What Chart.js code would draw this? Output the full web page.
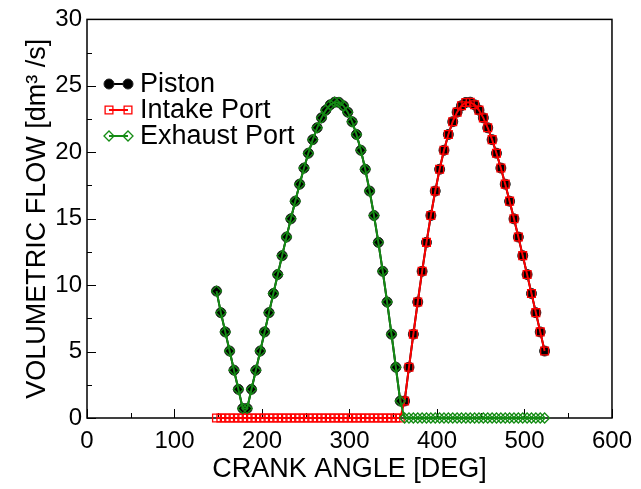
<!DOCTYPE html>
<html lang="en">
<head>
<meta charset="UTF-8">
<title>Volumetric Flow</title>
<script src="https://cdn.jsdelivr.net/npm/chart.js@4"></script>
<style>
  html, body { margin: 0; padding: 0; background: #fff; }
</style>
</head>
<body>
<canvas id="flowChart" width="641" height="489"></canvas>
<script>
// crank angle [deg], one sample every 5 deg
const crankAngle = [
  148, 153, 158, 163, 168, 173, 178, 183, 188, 193, 198, 203, 208, 213, 218, 223, 228, 233, 238, 243,
  248, 253, 258, 263, 268, 273, 278, 283, 288, 293, 298, 303, 308, 313, 318, 323, 328, 333, 338, 343,
  348, 353, 358, 363, 368, 373, 378, 383, 388, 393, 398, 403, 408, 413, 418, 423, 428, 433, 438, 443,
  448, 453, 458, 463, 468, 473, 478, 483, 488, 493, 498, 503, 508, 513, 518, 523
];

// volumetric flow [dm3/s]
const pistonFlow = [
  9.55, 7.93, 6.48, 5.04, 3.60, 2.16, 0.72, 0.72, 2.16, 3.60, 5.04, 6.48, 7.93, 9.37, 10.80, 12.22, 13.62, 14.99, 16.32, 17.60,
  18.81, 19.93, 20.95, 21.84, 22.59, 23.17, 23.57, 23.77, 23.75, 23.50, 23.02, 22.30, 21.34, 20.15, 18.72, 17.08, 15.24, 13.22, 11.04, 8.73,
  6.31, 3.82, 1.28, 1.28, 3.82, 6.31, 8.73, 11.04, 13.22, 15.24, 17.08, 18.72, 20.15, 21.34, 22.30, 23.02, 23.50, 23.75, 23.77, 23.57,
  23.17, 22.59, 21.84, 20.95, 19.93, 18.81, 17.60, 16.32, 14.99, 13.62, 12.22, 10.80, 9.37, 7.93, 6.48, 5.04
];
const intakeFlow = [
  0, 0, 0, 0, 0, 0, 0, 0, 0, 0, 0, 0, 0, 0, 0, 0, 0, 0, 0, 0,
  0, 0, 0, 0, 0, 0, 0, 0, 0, 0, 0, 0, 0, 0, 0, 0, 0, 0, 0, 0,
  0, 0, 0, 1.28, 3.82, 6.31, 8.73, 11.04, 13.22, 15.24, 17.08, 18.72, 20.15, 21.34, 22.30, 23.02, 23.50, 23.75, 23.77, 23.57,
  23.17, 22.59, 21.84, 20.95, 19.93, 18.81, 17.60, 16.32, 14.99, 13.62, 12.22, 10.80, 9.37, 7.93, 6.48, 5.04
];
const exhaustFlow = [
  9.55, 7.93, 6.48, 5.04, 3.60, 2.16, 0.72, 0.72, 2.16, 3.60, 5.04, 6.48, 7.93, 9.37, 10.80, 12.22, 13.62, 14.99, 16.32, 17.60,
  18.81, 19.93, 20.95, 21.84, 22.59, 23.17, 23.57, 23.77, 23.75, 23.50, 23.02, 22.30, 21.34, 20.15, 18.72, 17.08, 15.24, 13.22, 11.04, 8.73,
  6.31, 3.82, 1.28, 0, 0, 0, 0, 0, 0, 0, 0, 0, 0, 0, 0, 0, 0, 0, 0, 0,
  0, 0, 0, 0, 0, 0, 0, 0, 0, 0, 0, 0, 0, 0, 0, 0
];

const seriesNames = ['Piston', 'Intake Port', 'Exhaust Port'];
const xTitle = 'CRANK ANGLE [DEG]';
const yTitle = 'VOLUMETRIC FLOW [dm\u00B3 /s]';

const GREEN = 'rgb(20,140,20)';
const RED = '#ff0000';

const toPoints = (ys) => crankAngle.map((x, i) => ({ x: x, y: ys[i] }));

// box around the plot + inward ticks (major and minor)
const frameTicks = {
  id: 'frameTicks',
  beforeDatasetsDraw(chart) {
    const { ctx, chartArea: a, scales: { x, y } } = chart;
    ctx.save();
    ctx.strokeStyle = '#000';
    ctx.lineWidth = 1.5;
    ctx.strokeRect(a.left, a.top, a.right - a.left, a.bottom - a.top);
    ctx.lineWidth = 1;
    for (let v = x.min; v <= x.max; v += 50) {
      const px = Math.round(x.getPixelForValue(v)) + 0.5;
      const len = v % 100 === 0 ? 9 : 5;
      ctx.beginPath();
      ctx.moveTo(px, a.bottom);
      ctx.lineTo(px, a.bottom - len);
      ctx.stroke();
    }
    for (let v = y.min; v <= y.max; v += 2.5) {
      const py = Math.round(y.getPixelForValue(v)) + 0.5;
      const len = v % 5 === 0 ? 9 : 5;
      ctx.beginPath();
      ctx.moveTo(a.left, py);
      ctx.lineTo(a.left + len, py);
      ctx.stroke();
    }
    ctx.restore();
  }
};

// legend: short line with a marker on each end, then the label
const lineLegend = {
  id: 'lineLegend',
  afterDatasetsDraw(chart) {
    const { ctx } = chart;
    const x1 = 109, x2 = 128, tx = 140;
    ctx.save();
    chart.data.datasets.forEach((ds, i) => {
      const yy = 84 + i * 26;
      ctx.strokeStyle = ds.borderColor;
      ctx.lineWidth = 2;
      ctx.beginPath();
      ctx.moveTo(x1, yy);
      ctx.lineTo(x2, yy);
      ctx.stroke();
      const opts = { pointStyle: ds.pointStyle, radius: ds.pointRadius, rotation: 0, borderWidth: ds.pointBorderWidth };
      ctx.fillStyle = ds.pointBackgroundColor;
      ctx.strokeStyle = ds.pointBorderColor;
      ctx.lineWidth = ds.pointBorderWidth;
      Chart.helpers.drawPoint(ctx, opts, x1, yy);
      Chart.helpers.drawPoint(ctx, opts, x2, yy);
      ctx.fillStyle = '#000';
      ctx.font = "27px 'Liberation Sans', Arial, sans-serif";
      ctx.textBaseline = 'middle';
      ctx.textAlign = 'left';
      ctx.fillText(ds.label, tx, yy + 1);
    });
    ctx.restore();
  }
};

Chart.defaults.font.family = "'Liberation Sans', Arial, sans-serif";
Chart.defaults.color = '#000';

const ctx = document.getElementById('flowChart').getContext('2d');
new Chart(ctx, {
  type: 'line',
  data: {
    datasets: [
      {
        label: seriesNames[0],
        data: toPoints(pistonFlow),
        borderColor: '#000',
        borderWidth: 2,
        pointStyle: 'circle',
        pointRadius: 5,
        pointBackgroundColor: '#000',
        pointBorderColor: '#222',
        pointBorderWidth: 1,
        clip: false,
        order: 3
      },
      {
        label: seriesNames[1],
        data: toPoints(intakeFlow),
        borderColor: RED,
        borderWidth: 2,
        pointStyle: 'rect',
        pointRadius: 5.5,
        pointBackgroundColor: 'rgba(0,0,0,0)',
        pointBorderColor: RED,
        pointBorderWidth: 1.3,
        clip: false,
        order: 2
      },
      {
        label: seriesNames[2],
        data: toPoints(exhaustFlow),
        borderColor: GREEN,
        borderWidth: 2,
        pointStyle: 'rectRot',
        pointRadius: 5,
        pointBackgroundColor: 'rgba(0,0,0,0)',
        pointBorderColor: GREEN,
        pointBorderWidth: 1.3,
        clip: false,
        order: 1
      }
    ]
  },
  options: {
    responsive: false,
    animation: false,
    devicePixelRatio: 1,
    layout: { padding: { left: 0, right: 23, top: 19, bottom: 0 } },
    plugins: {
      legend: { display: false },
      tooltip: { enabled: false }
    },
    elements: { line: { tension: 0 } },
    scales: {
      x: {
        type: 'linear',
        min: 0,
        max: 600,
        grid: { display: false, drawTicks: false },
        border: { display: false },
        ticks: { stepSize: 100, padding: 9, font: { size: 24 }, color: '#000', maxRotation: 0 },
        title: { display: true, text: xTitle, font: { size: 27 }, color: '#000', padding: { top: 0, bottom: 3 } },
        afterFit: (s) => { s.height = 71; }
      },
      y: {
        min: 0,
        max: 30,
        grid: { display: false, drawTicks: false },
        border: { display: false },
        ticks: { stepSize: 5, padding: 5, font: { size: 24 }, color: '#000' },
        title: { display: true, text: yTitle, font: { size: 27 }, color: '#000', padding: { top: 21, bottom: 0 } },
        afterFit: (s) => { s.width = 87; }
      }
    }
  },
  plugins: [frameTicks, lineLegend]
});
</script>
</body>
</html>
